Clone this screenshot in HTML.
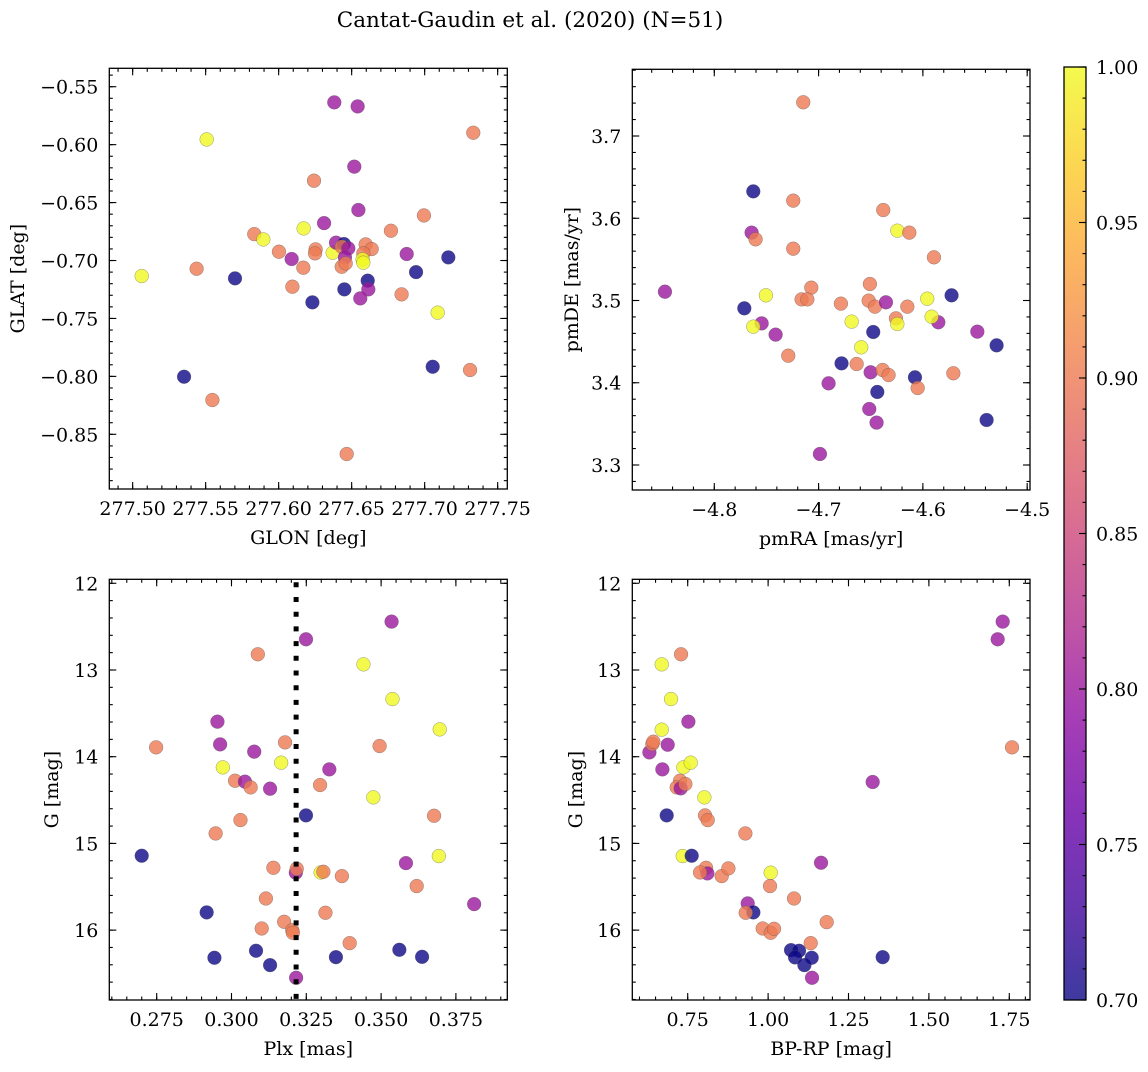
<!DOCTYPE html>
<html><head><meta charset="utf-8">
<style>
html,body{margin:0;padding:0;background:#fff;}
svg text{font-family:"DejaVu Serif","Liberation Serif",serif;fill:#000;}
</style></head>
<body>
<svg id="fig" width="1148" height="1067" viewBox="0 0 1148 1067" xmlns="http://www.w3.org/2000/svg">
<defs>
<linearGradient id="cbgrad" x1="0" y1="1" x2="0" y2="0">
<stop offset="0" stop-color="#0d0887"/><stop offset="0.1" stop-color="#41049d"/><stop offset="0.2" stop-color="#6a00a8"/><stop offset="0.3" stop-color="#8f0da4"/><stop offset="0.4" stop-color="#b12a90"/><stop offset="0.5" stop-color="#cc4778"/><stop offset="0.6" stop-color="#e16462"/><stop offset="0.7" stop-color="#f2844b"/><stop offset="0.8" stop-color="#fca636"/><stop offset="0.9" stop-color="#fcce25"/><stop offset="1" stop-color="#f0f921"/>
</linearGradient>
</defs>
<text x="530" y="27" font-size="21.5" text-anchor="middle" font-family="DejaVu Serif, serif">Cantat-Gaudin et al. (2020) (N=51)</text>
</svg>
<script>
// ---------- data ----------
const p1Lon=[277.5062,277.5438,277.5701,277.5507,277.5352,277.5546,277.5833,277.5895,277.6002,277.6089,277.6169,277.6094,277.6171,277.6231,277.6242,277.6253,277.6249,277.6311,277.6381,277.637,277.6393,277.6447,277.6432,277.6477,277.6454,277.645,277.6432,277.6459,277.6466,277.6541,277.6518,277.6546,277.6596,277.6637,277.658,277.6575,277.658,277.661,277.6614,277.6559,277.6769,277.6842,277.6877,277.6941,277.6995,277.7055,277.7089,277.7162,277.7311,277.7333];
const p1Lat=[-0.7134,-0.7071,-0.7154,-0.5955,-0.8003,-0.8204,-0.6772,-0.6818,-0.6924,-0.6987,-0.7062,-0.7226,-0.6723,-0.7361,-0.6311,-0.6904,-0.6938,-0.6677,-0.5635,-0.6933,-0.6846,-0.6858,-0.6881,-0.6895,-0.6973,-0.7249,-0.7054,-0.7025,-0.867,-0.567,-0.619,-0.6564,-0.6861,-0.6901,-0.6938,-0.699,-0.7019,-0.7174,-0.7249,-0.7327,-0.6743,-0.7292,-0.6944,-0.71,-0.6611,-0.7917,-0.745,-0.6973,-0.7945,-0.5897];
const p1C=[1,0.9,0.7,1,0.7,0.9,0.9,1,0.9,0.8,0.9,0.9,1,0.7,0.9,0.9,0.9,0.8,0.8,1,0.8,0.7,0.9,0.8,0.8,0.7,0.9,0.9,0.9,0.8,0.8,0.8,0.9,0.9,0.9,1,1,0.7,0.8,0.8,0.9,0.9,0.8,0.7,0.9,0.7,1,0.7,0.9,0.9];

const p2RA=[-4.8473,-4.7626,-4.7243,-4.7642,-4.7604,-4.7243,-4.7147,-4.7712,-4.7505,-4.7546,-4.7626,-4.7412,-4.7291,-4.707,-4.7163,-4.7108,-4.6904,-4.6987,-4.6786,-4.678,-4.6683,-4.6635,-4.6591,-4.6508,-4.652,-4.646,-4.6354,-4.6476,-4.6501,-4.6386,-4.6329,-4.6437,-4.6514,-4.6444,-4.638,-4.6245,-4.613,-4.6258,-4.6245,-4.6149,-4.6076,-4.605,-4.5958,-4.5894,-4.5852,-4.5916,-4.5725,-4.5708,-4.5478,-4.5293,-4.5389];
const p2DE=[3.5107,3.6327,3.6214,3.5825,3.5744,3.563,3.741,3.4905,3.5063,3.4722,3.4682,3.4585,3.4329,3.5156,3.5014,3.5014,3.3993,3.3134,3.4962,3.4236,3.4743,3.4228,3.4431,3.5201,3.4998,3.4925,3.4978,3.4617,3.4127,3.4155,3.4094,3.3888,3.3681,3.3515,3.61,3.5849,3.5825,3.4783,3.4714,3.4925,3.4066,3.3936,3.5022,3.5525,3.4735,3.4803,3.5063,3.4115,3.4621,3.4455,3.3547];
const p2C=[0.8,0.7,0.9,0.8,0.9,0.9,0.9,0.7,1,0.8,1,0.8,0.9,0.9,0.9,0.9,0.8,0.8,0.9,0.7,1,0.9,1,0.9,0.9,0.9,0.8,0.7,0.8,0.9,0.9,0.7,0.8,0.8,0.9,1,0.9,0.9,1,0.9,0.7,0.9,1,0.9,0.8,1,0.7,0.9,0.8,0.7,0.7];

const p3Plx=[0.27,0.2748,0.2917,0.2943,0.2947,0.2953,0.2962,0.2971,0.3012,0.3045,0.3064,0.303,0.3076,0.3088,0.3082,0.3115,0.3101,0.3129,0.3129,0.314,0.3166,0.3179,0.3176,0.3203,0.3205,0.3216,0.3215,0.3218,0.3249,0.3249,0.3296,0.3298,0.3307,0.3314,0.3327,0.3349,0.3369,0.3395,0.3441,0.3474,0.3495,0.3535,0.3538,0.3561,0.3583,0.3619,0.3637,0.3677,0.3696,0.3693,0.3811];
const p3G=[15.142,13.892,15.796,16.319,14.885,13.596,13.858,14.123,14.277,14.288,14.354,14.731,13.942,12.819,16.238,15.635,15.981,14.369,16.404,15.281,14.069,13.835,15.904,16.0,16.031,16.55,15.338,15.292,12.646,14.677,14.327,15.335,15.327,15.8,14.146,16.312,15.377,16.15,12.935,14.469,13.877,12.442,13.335,16.227,15.227,15.492,16.308,14.681,13.685,15.146,15.7];
const p3C=[0.7,0.9,0.7,0.7,0.9,0.8,0.8,1,0.9,0.8,0.9,0.9,0.8,0.9,0.7,0.9,0.9,0.8,0.7,0.9,1,0.9,0.9,0.9,0.9,0.8,0.8,0.9,0.8,0.7,0.9,1,0.9,0.9,0.8,0.7,0.9,0.9,1,1,0.9,0.8,1,0.7,0.8,0.9,0.7,0.9,1,1,0.8];
const meanPlx=[0.3216];

const p4BPRP=[0.6308,0.64,0.6432,0.6692,0.6692,0.6712,0.6847,0.6878,0.6982,0.7293,0.7262,0.7158,0.7282,0.7427,0.7365,0.7593,0.7521,0.7345,0.7624,0.8018,0.8039,0.8122,0.807,0.8112,0.7884,0.8557,0.8765,0.9293,0.9366,0.9542,0.9303,0.9832,1.0081,1.0185,1.0081,1.006,1.0806,1.0713,1.0962,1.0838,1.1128,1.1356,1.1325,1.1366,1.1646,1.1822,1.3252,1.3563,1.7139,1.7295,1.7585];
const p4G=[13.95,13.854,13.827,12.935,13.688,14.146,14.677,13.862,13.335,12.819,14.277,14.354,14.365,14.315,14.123,14.069,13.596,15.146,15.142,14.469,14.677,14.731,15.281,15.346,15.335,15.377,15.288,14.885,15.692,15.796,15.8,15.981,16.031,15.985,15.338,15.492,15.635,16.231,16.238,16.315,16.404,16.319,16.15,16.55,15.223,15.908,14.292,16.312,12.646,12.442,13.892];
const p4C=[0.8,0.9,0.9,1,1,0.8,0.7,0.8,1,0.9,0.9,0.9,0.8,0.9,1,1,0.8,1,0.7,1,0.9,0.9,0.9,0.8,0.9,0.9,0.9,0.9,0.8,0.7,0.9,0.9,0.9,0.9,1,0.9,0.9,0.7,0.7,0.7,0.7,0.7,0.9,0.8,0.8,0.9,0.8,0.7,0.8,0.8,0.9];

const p1XTicks=["277.50","277.55","277.60","277.65","277.70","277.75"];
const p1YTicks=["-0.85","-0.80","-0.75","-0.70","-0.65","-0.60","-0.55"];
const p2XTicks=["-4.8","-4.7","-4.6","-4.5"];
const p2YTicks=["3.3","3.4","3.5","3.6","3.7"];
const p3XTicks=["0.275","0.300","0.325","0.350","0.375"];
const gTicks=["12","13","14","15","16"];
const p4XTicks=["0.75","1.00","1.25","1.50","1.75"];
const cbTicks=["0.70","0.75","0.80","0.85","0.90","0.95","1.00"];

// ---------- rendering ----------
const NS="http://www.w3.org/2000/svg";
const svg=document.getElementById('fig');
const FS=19;
function mk(tag,attrs,parent){const e=document.createElementNS(NS,tag);for(const k in attrs)e.setAttribute(k,attrs[k]);(parent||svg).appendChild(e);return e;}
const stops=[[0,[13,8,135]],[0.1,[65,4,157]],[0.2,[106,0,168]],[0.3,[143,13,164]],[0.4,[177,42,144]],[0.5,[204,71,120]],[0.6,[225,100,98]],[0.7,[242,132,75]],[0.8,[252,166,54]],[0.9,[252,206,37]],[1,[240,249,33]]];
function plasma(c){let t=Math.max(0,Math.min(1,(c-0.7)/0.3));for(let i=1;i<stops.length;i++){if(t<=stops[i][0]){const a=stops[i-1],b=stops[i];const f=(t-a[0])/(b[0]-a[0]);const r=a[1].map((v,j)=>Math.round(v+(b[1][j]-v)*f));return `rgb(${r[0]},${r[1]},${r[2]})`;}}return 'rgb(240,249,33)';}
function fmt(s){return s.replace('-','\u2212');}

function panel(o){
  const g=mk('g',{});
  
  
  const L=o.px[0],R=o.px[1],T=o.py[0],B=o.py[1];
  const sx=v=>L+(v-o.xd[0])/(o.xd[1]-o.xd[0])*(R-L);
  const sy=o.invY?(v=>T+(v-o.yd[0])/(o.yd[1]-o.yd[0])*(B-T)):(v=>B-(v-o.yd[0])/(o.yd[1]-o.yd[0])*(B-T));
  const pg=mk('g',{},g);
  
  
  for(let i=0;i<o.xs.length;i++){
    const c=mk('circle',{cx:sx(o.xs[i]).toFixed(2),cy:sy(o.ys[i]).toFixed(2),r:6.9,fill:plasma(o.cs[i]),'fill-opacity':0.8,stroke:'#555','stroke-opacity':0.6,'stroke-width':0.5},pg);
    
    
  }
  if(o.extra)o.extra(g,sx,sy,T,B);
  const tg=mk('g',{stroke:'#000','stroke-width':1.1},g);
  function xt(v,len){const x=sx(v);if(x<L-0.5||x>R+0.5)return;mk('line',{x1:x,y1:B,x2:x,y2:B-len},tg);mk('line',{x1:x,y1:T,x2:x,y2:T+len},tg);}
  function yt(v,len){const y=sy(v);if(y<T-0.5||y>B+0.5)return;mk('line',{x1:L,y1:y,x2:L+len,y2:y},tg);mk('line',{x1:R,y1:y,x2:R-len,y2:y},tg);}
  for(let v=Math.ceil(o.xd[0]/o.xmin)*o.xmin;v<=o.xd[1];v+=o.xmin)xt(v,3.5);
  const y0=Math.min(o.yd[0],o.yd[1]),y1=Math.max(o.yd[0],o.yd[1]);
  for(let v=Math.ceil(y0/o.ymin)*o.ymin;v<=y1;v+=o.ymin)yt(v,3.5);
  o.xt.forEach(s=>{const v=parseFloat(s);xt(v,7);const x=sx(v);if(x<L-1||x>R+1)return;const t=mk('text',{x:x,y:B+26,'font-size':FS,'text-anchor':'middle'},g);t.textContent=fmt(s);});
  o.yt.forEach(s=>{const v=parseFloat(s);yt(v,7);const y=sy(v);if(y<T-1||y>B+1)return;const t=mk('text',{x:L-11,y:y+7,'font-size':FS,'text-anchor':'end'},g);t.textContent=fmt(s);});
  mk('rect',{x:L,y:T,width:R-L,height:B-T,fill:'none',stroke:'#000','stroke-width':1.3},g);
  const xl=mk('text',{x:(L+R)/2,y:B+55,'font-size':FS,'text-anchor':'middle'},g);xl.textContent=o.xlabel;
  
  const yl=mk('text',{x:o.ylx,y:(T+B)/2,'font-size':FS,'text-anchor':'middle',transform:`rotate(-90 ${o.ylx} ${(T+B)/2})`},g);yl.textContent=o.ylabel;
  
}

panel({name:'glon-glat-panel',px:[109.3,507.3],py:[68.3,489],xd:[277.484,277.7566],yd:[-0.8972,-0.5341],xs:p1Lon,ys:p1Lat,cs:p1C,xmin:0.01,ymin:0.01,xt:p1XTicks,yt:p1YTicks,xlabel:'GLON [deg]',ylabel:'GLAT [deg]',ylx:24});
panel({name:'pm-panel',px:[632.3,1030],py:[69.3,490],xd:[-4.8786,-4.4973],yd:[3.2696,3.7811],xs:p2RA,ys:p2DE,cs:p2C,xmin:0.02,ymin:0.02,xt:p2XTicks,yt:p2YTicks,xlabel:'pmRA [mas/yr]',ylabel:'pmDE [mas/yr]',ylx:578});
panel({name:'plx-g-panel',px:[109.3,507.3],py:[579.3,1000],xd:[0.25916,0.39218],yd:[11.954,16.806],invY:true,xs:p3Plx,ys:p3G,cs:p3C,xmin:0.005,ymin:0.2,xt:p3XTicks,yt:gTicks,xlabel:'Plx [mas]',ylabel:'G [mag]',ylx:58,
  extra:(g,sx,sy,T,B)=>{const x=sx(meanPlx[0]);const l=mk('line',{x1:x,y1:T+3,x2:x,y2:B,stroke:'#000','stroke-width':5,'stroke-dasharray':'5 9.7'},g);}});
panel({name:'cmd-panel',px:[632.3,1030],py:[579.3,1000],xd:[0.5777,1.8144],yd:[11.954,16.806],invY:true,xs:p4BPRP,ys:p4G,cs:p4C,xmin:0.05,ymin:0.2,xt:p4XTicks,yt:gTicks,xlabel:'BP-RP [mag]',ylabel:'G [mag]',ylx:582});

const cb=mk('g',{});


const cT=67,cB=1000,cL=1064,cR=1086;
mk('rect',{x:cL,y:cT,width:cR-cL,height:cB-cT,fill:'url(#cbgrad)','fill-opacity':0.8},cb);
const cy=v=>cB-(v-0.7)/0.3*(cB-cT);
for(let v=0.7;v<=1.0001;v+=0.01){mk('line',{x1:cR,y1:cy(v),x2:cR-3.5,y2:cy(v),stroke:'#000','stroke-width':1.1},cb);}
cbTicks.forEach(s=>{const v=parseFloat(s);mk('line',{x1:cR,y1:cy(v),x2:cR-7,y2:cy(v),stroke:'#000','stroke-width':1.1},cb);const t=mk('text',{x:cR+10,y:cy(v)+7,'font-size':FS},cb);t.textContent=s;});
mk('rect',{x:cL,y:cT,width:cR-cL,height:cB-cT,fill:'none',stroke:'#000','stroke-width':1.3},cb);
</script>
</body></html>
